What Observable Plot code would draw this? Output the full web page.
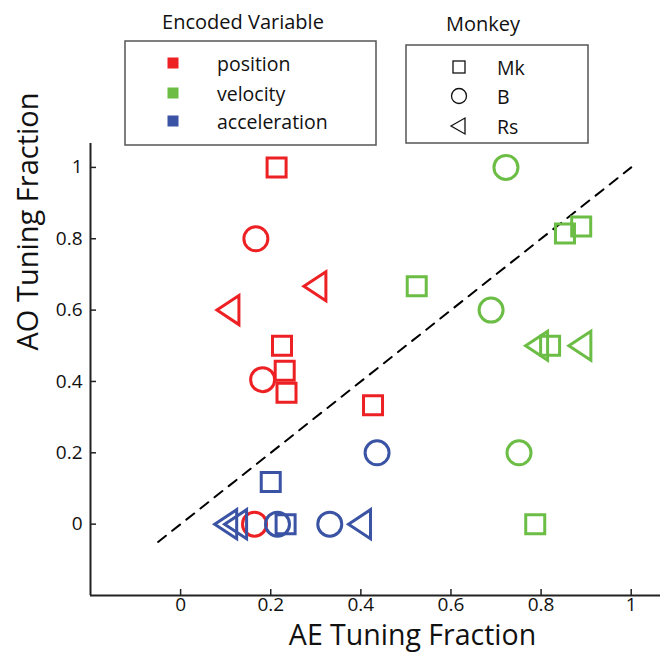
<!DOCTYPE html>
<html>
<head>
<meta charset="utf-8">
<script src="https://cdn.jsdelivr.net/npm/d3@7"></script>
<script src="https://cdn.jsdelivr.net/npm/@observablehq/plot@0.6"></script>
<style>
  html, body { margin: 0; padding: 0; background: white; }
  #wrap { position: relative; width: 665px; height: 660px; font-family: "Open Sans", sans-serif; }
  #legend { position: absolute; left: 0; top: 0; pointer-events: none; }
</style>
</head>
<body>
<div id="wrap"></div>
<script>
// ---- data ----
const variables = ["position", "velocity", "acceleration"];
const variableColors = ["#ED2024", "#6CBD45", "#3A53A4"];
const monkeys = ["Mk", "B", "Rs"];

const positionAE = [0.213, 0.167, 0.105, 0.298, 0.225, 0.231, 0.182, 0.235, 0.427, 0.164];
const positionAO = [1.0, 0.8, 0.6, 0.667, 0.5, 0.43, 0.405, 0.368, 0.333, 0];
const positionMonkey = ["Mk", "B", "Rs", "Rs", "Mk", "Mk", "B", "Mk", "Mk", "B"];

const velocityAE = [0.722, 0.853, 0.889, 0.524, 0.689, 0.79, 0.82, 0.886, 0.751, 0.787];
const velocityAO = [1.0, 0.815, 0.834, 0.667, 0.6, 0.5, 0.5, 0.5, 0.2, 0];
const velocityMonkey = ["B", "Mk", "Mk", "Mk", "B", "Rs", "Mk", "Rs", "B", "Mk"];

const accelerationAE = [0.436, 0.20, 0.10, 0.122, 0.215, 0.233, 0.331, 0.397];
const accelerationAO = [0.2, 0.118, 0, 0, 0, 0, 0, 0];
const accelerationMonkey = ["B", "Mk", "Rs", "Rs", "B", "Mk", "B", "Rs"];

const xTicks = [0, 0.2, 0.4, 0.6, 0.8, 1];
const yTicks = [0, 0.2, 0.4, 0.6, 0.8, 1];
const diagonal = [-0.05, 1];

const xTitle = "AE Tuning Fraction";
const yTitle = "AO Tuning Fraction";

// ---- build table ----
function series(name, ae, ao, mk) {
  return ae.map((v, i) => ({ variable: name, ae: v, ao: ao[i], monkey: mk[i] }));
}
const points = [
  ...series("position", positionAE, positionAO, positionMonkey),
  ...series("velocity", velocityAE, velocityAO, velocityMonkey),
  ...series("acceleration", accelerationAE, accelerationAO, accelerationMonkey)
];

// custom symbols
const symSquare = { draw(c) { c.rect(-9.5, -9.5, 19, 19); } };
const symCircle = { draw(c) { c.moveTo(12, 0); c.arc(0, 0, 12, 0, 2 * Math.PI); c.closePath(); } };
const symTriLeft = { draw(c) { c.moveTo(-11, 0); c.lineTo(11, -14.5); c.lineTo(11, 14.5); c.closePath(); } };

const xMin = -0.2, xMax = 1.065, yMin = -0.2, yMax = 1.067;
const fmt = d => String(d);

const chart = Plot.plot({
  width: 665,
  height: 660,
  marginLeft: 90,
  marginRight: 5,
  marginTop: 143,
  marginBottom: 65,
  x: { domain: [xMin, xMax], label: null },
  y: { domain: [yMin, yMax], label: null },
  color: { domain: variables, range: variableColors },
  symbol: { domain: monkeys, range: [symSquare, symCircle, symTriLeft] },
  style: { fontFamily: "Open Sans, sans-serif", fontSize: "19px", background: "white", color: "#111" },
  marks: [
    Plot.axisX(xTicks, { tickSize: 0, tickPadding: 2, tickFormat: fmt, fontSize: 19, label: null }),
    Plot.axisY(yTicks, { tickSize: 0, tickPadding: 8, tickFormat: fmt, fontSize: 19, label: null }),
    Plot.ruleX(xTicks, { x: d => d, y1: yMin, y2: yMin + 6 / 357, stroke: "#222", strokeWidth: 1.5 }),
    Plot.ruleY(yTicks, { y: d => d, x1: xMin, x2: xMin + 6 / 450, stroke: "#222", strokeWidth: 1.5 }),
    Plot.ruleX([xMin], { stroke: "#222", strokeWidth: 2 }),
    Plot.ruleY([yMin], { stroke: "#222", strokeWidth: 2 }),
    Plot.line(diagonal, { x: d => d, y: d => d, stroke: "black", strokeWidth: 2, strokeDasharray: "10,8" }),
    Plot.dot(points, { x: "ae", y: "ao", symbol: "monkey", stroke: "variable", fill: "none", strokeWidth: 3, r: 12 }),
    Plot.text([xTitle], { frameAnchor: "bottom", dx: 37, dy: 49, fontSize: 28.5, fill: "#111" }),
    Plot.text([yTitle], { frameAnchor: "left", dx: -62, dy: -19, rotate: -90, fontSize: 29, fill: "#111" })
  ]
});
const wrap = document.getElementById("wrap");
wrap.appendChild(chart);

// ---- legends (overlay) ----
const svg = d3.select(wrap).append("svg")
  .attr("id", "legend").attr("width", 665).attr("height", 160)
  .style("font-family", "Open Sans, sans-serif");

// Encoded Variable legend
svg.append("text").attr("x", 243).attr("y", 21).attr("text-anchor", "middle")
  .attr("dominant-baseline", "central").attr("font-size", 20).attr("fill", "#111").text("Encoded Variable");
svg.append("rect").attr("x", 125).attr("y", 41).attr("width", 251).attr("height", 104)
  .attr("fill", "none").attr("stroke", "#555").attr("stroke-width", 1.5);
const evY = [63, 93, 121];
variables.forEach((v, i) => {
  svg.append("rect").attr("x", 173 - 5.5).attr("y", evY[i] - 5.5).attr("width", 11).attr("height", 11)
    .attr("fill", variableColors[i]);
  svg.append("text").attr("x", 217).attr("y", evY[i]).attr("dominant-baseline", "central")
    .attr("font-size", 19.5).attr("fill", "#111").text(v);
});

// Monkey legend
svg.append("text").attr("x", 483).attr("y", 23).attr("text-anchor", "middle")
  .attr("dominant-baseline", "central").attr("font-size", 20).attr("fill", "#111").text("Monkey");
svg.append("rect").attr("x", 406).attr("y", 45).attr("width", 182).attr("height", 98)
  .attr("fill", "none").attr("stroke", "#555").attr("stroke-width", 1.5);
const mkY = [67, 96, 126];
const cx = 459;
svg.append("rect").attr("x", cx - 6).attr("y", mkY[0] - 6).attr("width", 12).attr("height", 12)
  .attr("fill", "none").attr("stroke", "#111").attr("stroke-width", 1.3);
svg.append("circle").attr("cx", cx).attr("cy", mkY[1]).attr("r", 7.5)
  .attr("fill", "none").attr("stroke", "#111").attr("stroke-width", 1.3);
svg.append("path").attr("d", `M${cx - 8},${mkY[2]} L${cx + 6},${mkY[2] - 8} L${cx + 6},${mkY[2] + 8} Z`)
  .attr("fill", "none").attr("stroke", "#111").attr("stroke-width", 1.3);
monkeys.forEach((m, i) => {
  svg.append("text").attr("x", 497).attr("y", mkY[i]).attr("dominant-baseline", "central")
    .attr("font-size", 19.5).attr("fill", "#111").text(m);
});
</script>
</body>
</html>
